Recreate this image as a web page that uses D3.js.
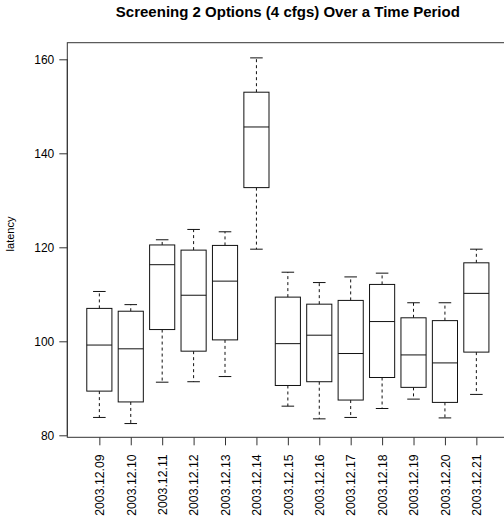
<!DOCTYPE html>
<html>
<head>
<meta charset="utf-8">
<script src="https://cdn.jsdelivr.net/npm/d3@7"></script>
<style>
body { margin: 0; background: #fff; }
svg { display: block; font-family: "Liberation Sans", Arial, Helvetica, sans-serif; }
</style>
</head>
<body>
<svg id="chart" width="504" height="519"></svg>
<script>
const categories = ["2003.12.09","2003.12.10","2003.12.11","2003.12.12","2003.12.13","2003.12.14","2003.12.15","2003.12.16","2003.12.17","2003.12.18","2003.12.19","2003.12.20","2003.12.21"];
const lowerWhisker = [83.8, 82.5, 91.3, 91.4, 92.5, 119.6, 86.2, 83.5, 83.8, 85.7, 87.7, 83.7, 88.7];
const q1Values     = [89.4, 87.1, 102.5, 97.9, 100.3, 132.7, 90.6, 91.4, 87.5, 92.3, 90.2, 87.0, 97.7];
const medianValues = [99.2, 98.4, 116.3, 109.8, 112.8, 145.6, 99.5, 101.3, 97.4, 104.2, 97.1, 95.4, 110.2];
const q3Values     = [107.0, 106.4, 120.5, 119.4, 120.4, 153.0, 109.4, 107.9, 108.7, 112.1, 105.0, 104.4, 116.7];
const upperWhisker = [110.6, 107.8, 121.6, 123.8, 123.3, 160.3, 114.7, 112.5, 113.7, 114.5, 108.2, 108.2, 119.6];
const yTicks = [80, 100, 120, 140, 160];
const titleText = "Screening 2 Options (4 cfgs) Over a Time Period";
const yLabel = "latency";

(function () {
const svg = d3.select("#chart");
const pL = 67.3, pR = 508.4, pT = 42.7, pB = 437.3;

const x = d3.scaleLinear().domain([-0.02, categories.length + 1.02]).range([pL, pR]);
const y = d3.scaleLinear().domain([100 - (437.3-341.3)/4.7, 100 + (341.3-42.7)/4.7]).range([pB, pT]);
const unit = x(1) - x(0);
const boxW = 0.8 * unit;
const stapleW = 0.5 * boxW;
const stroke = "#111";

svg.append("rect").attr("x", pL).attr("y", pT).attr("width", pR - pL).attr("height", pB - pT)
  .attr("fill", "none").attr("stroke", "#333").attr("stroke-width", 1);

const yAxis = d3.axisLeft(y).tickValues(yTicks).tickSize(8).tickPadding(5).tickSizeOuter(0);
const gy = svg.append("g").attr("transform", `translate(${pL},0)`).call(yAxis);
gy.select(".domain").attr("d", `M0,${y(160)}V${y(80)}`).attr("stroke", "#333");
gy.selectAll(".tick line").attr("stroke", "#333");
gy.selectAll(".tick text").attr("font-size", 12).attr("fill", "#000").attr("font-family", "Liberation Sans, Arial, sans-serif");

const xAxis = d3.axisBottom(x).tickValues(d3.range(1, categories.length + 1))
  .tickFormat(i => categories[i - 1]).tickSize(8).tickSizeOuter(0);
const gx = svg.append("g").attr("transform", `translate(0,${pB})`).call(xAxis);
gx.select(".domain").remove();
gx.selectAll(".tick line").attr("stroke", "#333");
gx.selectAll(".tick text").attr("font-size", 12.3).attr("fill", "#000")
  .attr("font-family", "Liberation Sans, Arial, sans-serif")
  .attr("transform", "rotate(-90)").attr("text-anchor", "end")
  .attr("x", -17).attr("y", 0).attr("dy", "0.35em");

const data = categories.map((c, i) => ({
  c, i: i + 1, lo: lowerWhisker[i], q1: q1Values[i], med: medianValues[i], q3: q3Values[i], hi: upperWhisker[i]
}));
const g = svg.append("g");
data.forEach(d => {
  const cx = x(d.i);
  g.append("line").attr("x1", cx).attr("x2", cx).attr("y1", y(d.q3)).attr("y2", y(d.hi))
    .attr("stroke", stroke).attr("stroke-dasharray", "3,3");
  g.append("line").attr("x1", cx).attr("x2", cx).attr("y1", y(d.q1)).attr("y2", y(d.lo))
    .attr("stroke", stroke).attr("stroke-dasharray", "3,3");
  g.append("line").attr("x1", cx - stapleW/2).attr("x2", cx + stapleW/2).attr("y1", y(d.hi)).attr("y2", y(d.hi)).attr("stroke", stroke);
  g.append("line").attr("x1", cx - stapleW/2).attr("x2", cx + stapleW/2).attr("y1", y(d.lo)).attr("y2", y(d.lo)).attr("stroke", stroke);
  g.append("rect").attr("x", cx - boxW/2).attr("y", y(d.q3)).attr("width", boxW).attr("height", y(d.q1) - y(d.q3))
    .attr("fill", "#fff").attr("stroke", stroke);
  g.append("line").attr("x1", cx - boxW/2).attr("x2", cx + boxW/2).attr("y1", y(d.med)).attr("y2", y(d.med)).attr("stroke", stroke);
});

svg.append("text").attr("x", (pL + pR) / 2).attr("y", 17).attr("text-anchor", "middle")
  .attr("font-size", 15).attr("font-weight", "bold").text(titleText);

svg.append("text").attr("transform", "translate(14,234) rotate(-90)").attr("text-anchor", "middle")
  .attr("font-size", 11).text(yLabel);
})();
</script>
</body>
</html>
